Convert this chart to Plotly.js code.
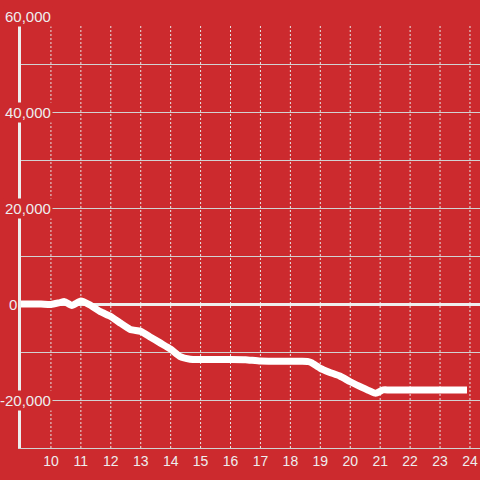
<!DOCTYPE html>
<html>
<head>
<meta charset="utf-8">
<script src="https://cdn.plot.ly/plotly-3.0.1.min.js"></script>
<style>
  html, body { margin: 0; padding: 0; background: #cc2a2e; }
  #chart { width: 480px; height: 480px; }
</style>
</head>
<body>
<div id="chart"></div>
<script>
// ---- data ----
const xValues = [9.0, 9.33, 9.67, 10.0, 10.3, 10.45, 10.7, 11.0, 11.3, 11.65, 12.0, 12.3, 12.65, 13.0, 13.3, 13.65, 14.0, 14.3, 14.65, 15.0, 16.0, 16.5, 17.0, 18.0, 18.4, 18.6, 18.7, 19.0, 19.3, 19.65, 20.0, 20.3, 20.65, 20.85, 21.1, 21.3, 23.9];
const yValues = [0, 0, 0, -100, 300, 500, -300, 600, -200, -1600, -2600, -3900, -5300, -5700, -6800, -8100, -9400, -10900, -11500, -11550, -11550, -11600, -11900, -11950, -11950, -12000, -12200, -13400, -14200, -15000, -16200, -17100, -18100, -18600, -17900, -17900, -17900];

const xTickVals = [10, 11, 12, 13, 14, 15, 16, 17, 18, 19, 20, 21, 22, 23, 24];
const xTickText = ['10', '11', '12', '13', '14', '15', '16', '17', '18', '19', '20', '21', '22', '23', '24'];
const yGridVals = [-30000, -20000, -10000, 0, 10000, 20000, 30000, 40000, 50000, 60000];
const yLabelVals = [60000, 40000, 20000, 0, -20000];
const yLabelText = ['60,000', '40,000', '20,000', '0', '-20,000'];

// ---- styling ----
const RED = '#cc2a2e';
const LIGHT = '#eeeeee';
const GRID = '#d2d2d2';
const FONT = 'Liberation Sans, Arial, sans-serif';
const xRange = [9, 24.335];
const yRange = [-30000, 60000];
const vGridTop = 58300;

const shapes = xTickVals.map(v => ({
  type: 'line', xref: 'x', yref: 'y', layer: 'below',
  x0: v, x1: v, y0: yRange[0], y1: vGridTop,
  line: { color: '#e6e6e6', width: 1, dash: '2px,2px' }
}));

const annotations = yLabelVals.map((v, i) => {
  const isZero = v === 0;
  return {
    xref: 'paper', yref: 'y', x: 0, y: v,
    text: yLabelText[i], showarrow: false,
    xanchor: isZero ? 'left' : 'right',
    xshift: isZero ? -14 : 32,
    yanchor: 'middle',
    bgcolor: isZero ? 'rgba(0,0,0,0)' : RED,
    borderpad: 1,
    font: { family: FONT, size: 15, color: LIGHT }
  };
});

const trace = {
  type: 'scatter', mode: 'lines',
  x: xValues, y: yValues,
  line: { color: '#ffffff', width: 7, shape: 'spline', smoothing: 0.5 },
  hoverinfo: 'skip'
};

const layout = {
  width: 480, height: 480,
  margin: { l: 21, r: 0, t: 16, b: 32, pad: 0 },
  paper_bgcolor: RED, plot_bgcolor: RED,
  showlegend: false,
  font: { family: FONT, color: LIGHT },
  xaxis: {
    range: xRange, showgrid: false, zeroline: false,
    tickmode: 'array', tickvals: xTickVals, ticktext: xTickText,
    ticks: '', tickfont: { family: FONT, size: 14, color: LIGHT },
    showline: true, linecolor: GRID, linewidth: 1
  },
  yaxis: {
    range: yRange, tickmode: 'array', tickvals: yGridVals,
    showticklabels: false, ticks: '',
    showgrid: true, gridcolor: GRID, gridwidth: 1,
    zeroline: true, zerolinecolor: LIGHT, zerolinewidth: 3,
    showline: true, linecolor: LIGHT, linewidth: 3
  },
  shapes: shapes,
  annotations: annotations
};

Plotly.newPlot('chart', [trace], layout, { displayModeBar: false, staticPlot: true });
</script>
</body>
</html>
